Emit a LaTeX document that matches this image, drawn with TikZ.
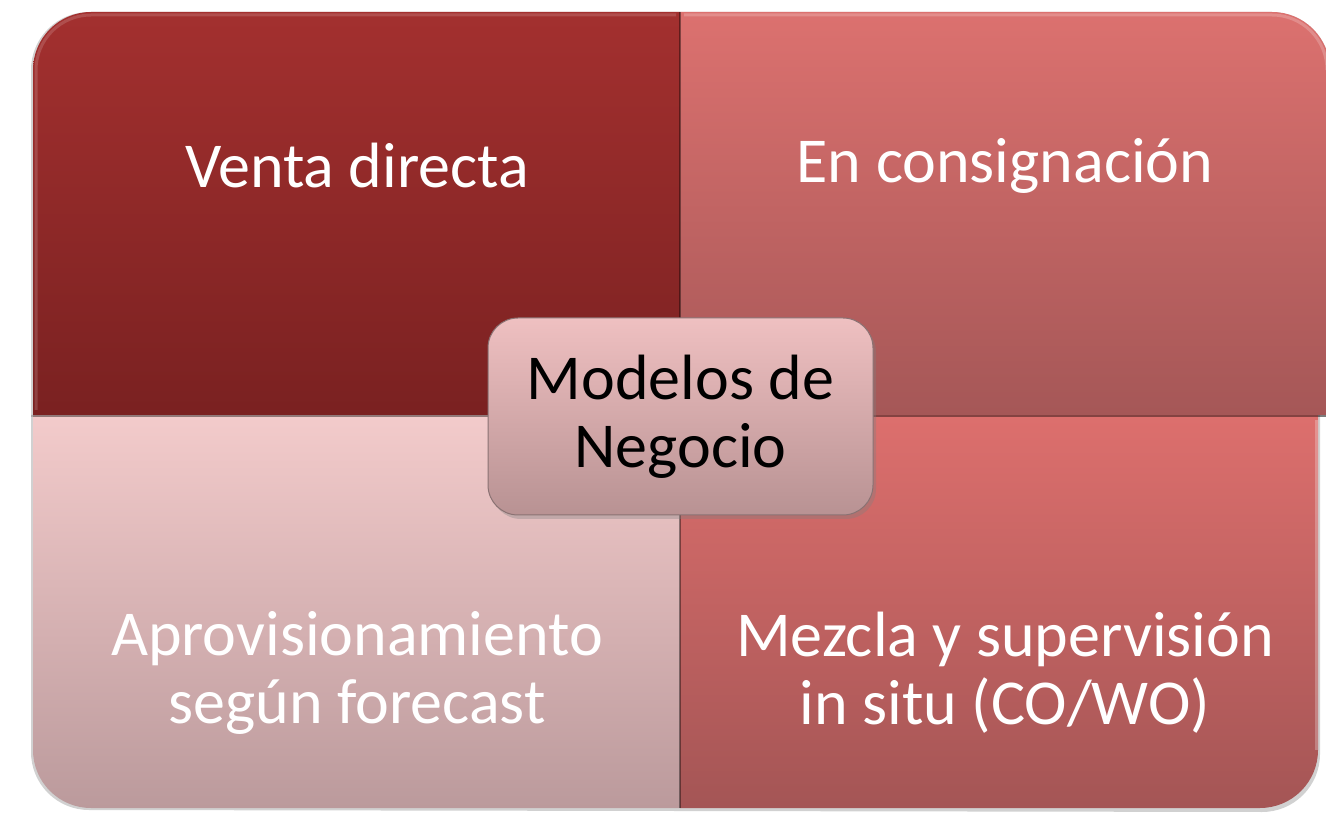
\documentclass[tikz,border=0pt]{standalone}
\usepackage{fontspec}
\setmainfont{Carlito}
\usetikzlibrary{shadows}
\definecolor{tlT}{HTML}{A3302F}
\definecolor{tlB}{HTML}{7A2121}
\definecolor{trT}{HTML}{DC716F}
\definecolor{trB}{HTML}{A55757}
\definecolor{blT}{HTML}{F3CBCB}
\definecolor{blB}{HTML}{BB9A9C}
\definecolor{brT}{HTML}{DD6F6D}
\definecolor{brB}{HTML}{A45555}
\definecolor{cT}{HTML}{EFC0C1}
\definecolor{cB}{HTML}{B89293}
\definecolor{cEdge}{HTML}{8A7273}
\tikzset{
  quadshadow/.style={fill=black, opacity=0.18},
  lbl/.style={text=white, font=\fontsize{64}{68}\selectfont, align=center, inner sep=0pt},
  centrebox/.style={rounded corners=30pt, minimum width=385pt, minimum height=197pt,
    top color=cT, bottom color=cB, draw=cEdge, line width=1pt,
    drop shadow={shadow xshift=3pt, shadow yshift=-4pt, opacity=0.35},
    text=black, font=\fontsize{64}{68}\selectfont, align=center, inner sep=0pt}
}
\begin{document}
\begin{tikzpicture}[x=1pt,y=1pt]
\useasboundingbox (0,0) rectangle (1326,815);
\clip (0,0) rectangle (1326,815);
\def\r{58}
% shadows
\fill[quadshadow] (31,398) -- (31,803-\r) arc[start angle=180,end angle=90,radius=\r] -- (1330-\r,803) arc[start angle=90,end angle=0,radius=\r] -- (1330,398) -- cycle;
\fill[quadshadow] (31,400) -- (31,5+\r) arc[start angle=180,end angle=270,radius=\r] -- (1320-\r,3) arc[start angle=270,end angle=360,radius=\r] -- (1320,400) -- cycle;
% bottom-left
\shade[top color=blT, bottom color=blB] (33,400) -- (33,7+\r) arc[start angle=180,end angle=270,radius=\r] -- (680,7) -- (680,400) -- cycle;
% bottom-right
\shade[top color=brT, bottom color=brB] (680,400) -- (680,7) -- (1318-\r,7) arc[start angle=270,end angle=360,radius=\r] -- (1318,400) -- cycle;
% top-left
\shade[top color=tlT, bottom color=tlB] (680,400) -- (33,400) -- (33,803-\r) arc[start angle=180,end angle=90,radius=\r] -- (680,803) -- cycle;
% top-right
\shade[top color=trT, bottom color=trB] (680,400) -- (680,803) -- (1330-\r,803) arc[start angle=90,end angle=0,radius=\r] -- (1330,400) -- cycle;
% edge highlights
\draw[white, opacity=0.15, line width=3pt] (36,405) -- (36,803-\r) arc[start angle=180,end angle=90,radius=\r-3] -- (676,800);
\draw[white, opacity=0.2, line width=3pt] (684,800) -- (1330-\r,800) arc[start angle=90,end angle=0,radius=\r-3];
\draw[white, opacity=0.25, line width=3pt] (1316,395) -- (1316,7+\r);
% separators
\draw[black, opacity=0.4, line width=2pt] (680,7) -- (680,803);
\draw[black, opacity=0.4, line width=2pt] (33,399) -- (1330,399);
% labels
\node[lbl] (venta) at (357,649) {Venta directa};
\node[lbl] (consig) at (1005,649) {En consignación};
\node[lbl] (aprov) at (357,142) {Aprovisionamiento\\según forecast};
\node[lbl] (mezcla) at (1005,142) {Mezcla y supervisión\\in situ (CO/WO)};
% centre
\node[centrebox] (centro) at (680.5,398.5) {Modelos de\\Negocio};
\end{tikzpicture}
\end{document}
